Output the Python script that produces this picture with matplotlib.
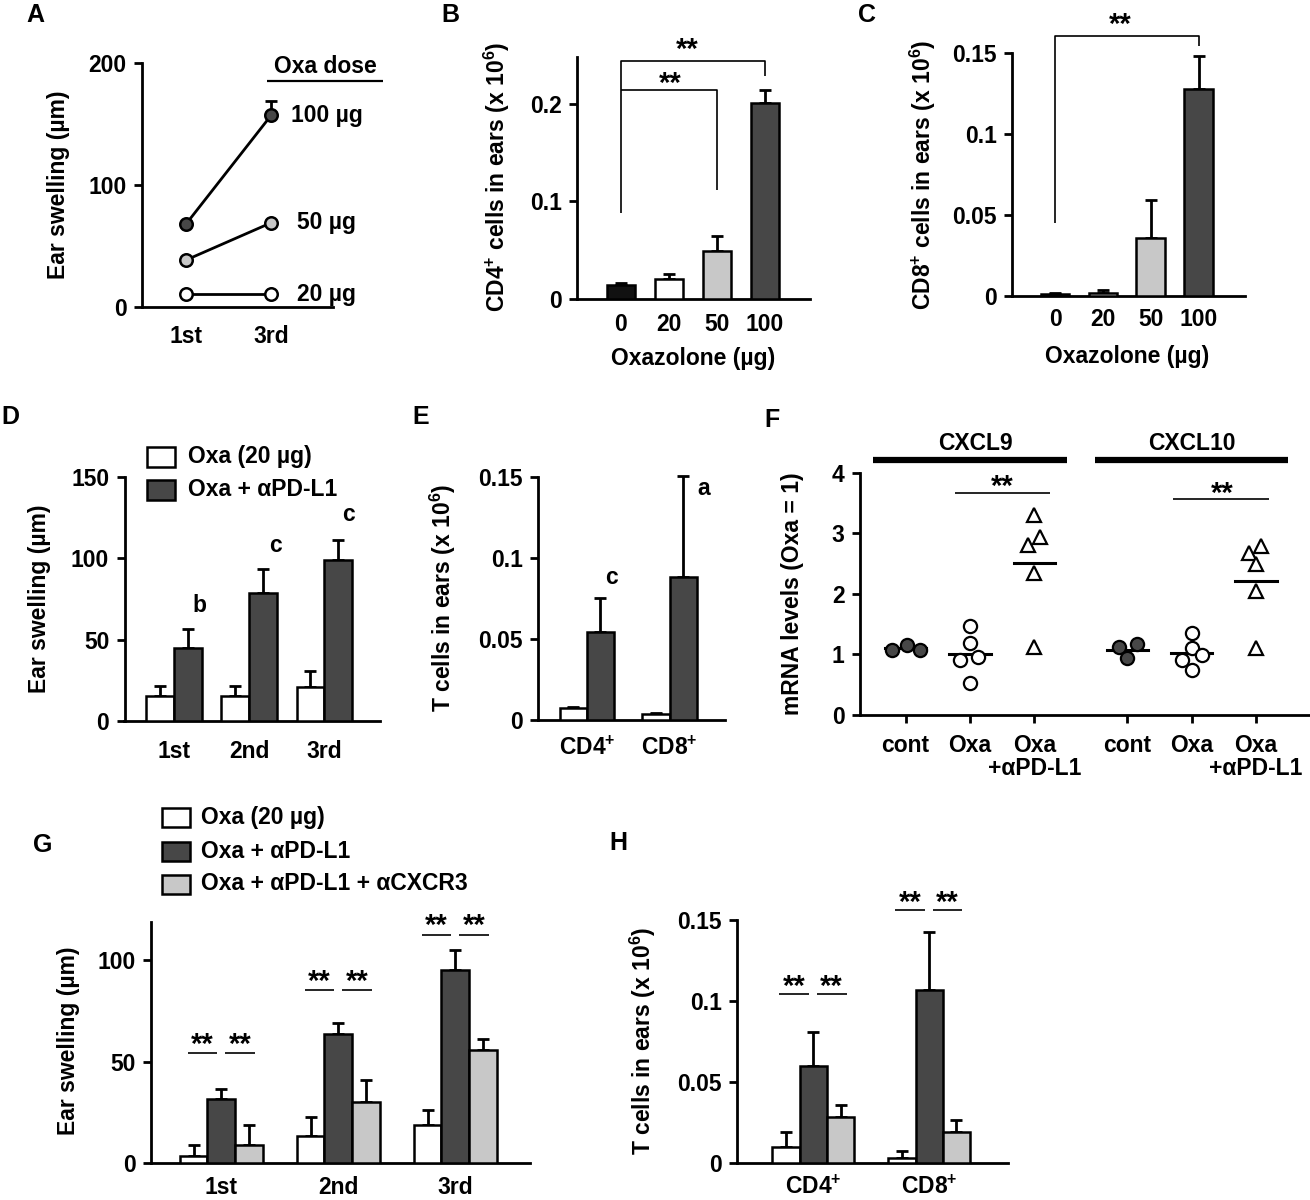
import matplotlib
matplotlib.use("Agg")
import matplotlib.pyplot as plt
from matplotlib.patches import Rectangle
import numpy as np

plt.rcParams['font.family'] = ['Liberation Sans', 'DejaVu Sans']
plt.rcParams['font.weight'] = 'bold'
plt.rcParams['font.size'] = 16.5
plt.rcParams['mathtext.fontset'] = 'custom'
plt.rcParams['mathtext.rm'] = 'Liberation Sans:bold'
plt.rcParams['mathtext.bf'] = 'Liberation Sans:bold'
plt.rcParams['mathtext.default'] = 'bf'
plt.rcParams['axes.linewidth'] = 2

# ---- data ----
# A: ear swelling after 1st / 3rd challenge
a_sessions = ['1st', '3rd']
a_doses = ['100 µg', '50 µg', '20 µg']
a_100 = [68, 157]
a_50 = [38.5, 69]
a_20 = [10.6, 10.6]
a_100_err = 12

# B / C: cells vs oxazolone dose
bc_doses = ['0', '20', '50', '100']
b_vals = [0.0144, 0.021, 0.0496, 0.2007]
b_err = [0.0024, 0.005, 0.0154, 0.013]
c_vals = [0.0012, 0.0017, 0.0357, 0.128]
c_err = [0.0004, 0.0023, 0.0234, 0.0205]

# D: swelling, Oxa vs Oxa + aPD-L1
d_sessions = ['1st', '2nd', '3rd']
d_oxa = [15.2, 15.2, 20.5]
d_oxa_err = [6.2, 6.2, 10.1]
d_pdl1 = [44.6, 78.5, 99.0]
d_pdl1_err = [11.9, 15.0, 12.4]
d_letters = ['b', 'c', 'c']

# E: T cells
e_cells = ['CD4$^{+}$', 'CD8$^{+}$']
e_oxa = [0.0072, 0.0035]
e_oxa_err = [0.001, 0.0006]
e_pdl1 = [0.0545, 0.0884]
e_pdl1_err = [0.0209, 0.0622]
e_letters = ['c', 'a']

# F: mRNA levels, individual animals
f_groups = ['cont', 'Oxa', 'Oxa\n+αPD-L1']
f_genes = ['CXCL9', 'CXCL10']
f_cxcl9 = [[1.07, 1.155, 1.07],
           [1.475, 1.19, 0.91, 0.95, 0.53],
           [3.30, 2.94, 2.81, 2.34, 1.13]]
f_cxcl10 = [[1.13, 1.17, 0.935],
            [1.35, 1.10, 0.90, 0.99, 0.75],
            [2.795, 2.67, 2.49, 2.04, 1.10]]
f_jitter9 = [[-0.22, 0.02, 0.22], [0, 0, -0.155, 0.13, 0], [0, 0.09, -0.09, 0, 0]]
f_jitter10 = [[-0.13, 0.145, 0], [0, 0, -0.155, 0.155, 0], [0.07, -0.11, 0, 0, 0]]

# G / H: with aCXCR3
g_labels = ['Oxa (20 µg)', 'Oxa + αPD-L1', 'Oxa + αPD-L1 + αCXCR3']
g_sessions = ['1st', '2nd', '3rd']
g_oxa = [3.3, 13.1, 18.9]
g_oxa_err = [5.7, 9.5, 7.3]
g_pdl1 = [31.5, 63.6, 95.1]
g_pdl1_err = [4.9, 5.6, 9.8]
g_cxcr3 = [9.0, 30.3, 55.7]
g_cxcr3_err = [9.9, 10.7, 5.3]
h_cells = ['CD4$^{+}$', 'CD8$^{+}$']
h_oxa = [0.0099, 0.0033]
h_oxa_err = [0.0093, 0.0039]
h_pdl1 = [0.0598, 0.1067]
h_pdl1_err = [0.0208, 0.0357]
h_cxcr3 = [0.0284, 0.0192]
h_cxcr3_err = [0.0072, 0.0076]

WHITE = 'white'
DARK = '#474747'
LIGHT = '#c8c8c8'
BLACK = '#111111'

W, H = 1310, 1200
fig = plt.figure(figsize=(W / 100, H / 100), dpi=100)


def make_ax(left, right, top, bottom):
    return fig.add_axes([left / W, 1 - bottom / H, (right - left) / W, (bottom - top) / H])


def style(ax, xlim, ylim, yticks, ylabels, xpad):
    ax.set_xlim(xlim)
    ax.set_ylim(ylim)
    ax.spines['top'].set_visible(False)
    ax.spines['right'].set_visible(False)
    ax.set_yticks(yticks)
    ax.set_yticklabels(ylabels)
    ax.tick_params(axis='y', length=6, width=2, pad=5)
    ax.tick_params(axis='x', length=0, pad=xpad)
    ax.patch.set_alpha(0)


def px_text(x, y, s, **kw):
    kw.setdefault('ha', 'center')
    kw.setdefault('va', 'center')
    fig.text(x / W, 1 - y / H, s, **kw)


def bars(ax, x, vals, err, width, color):
    ax.bar(x, vals, width, color=color, edgecolor='black', linewidth=1.8, zorder=3)
    ax.errorbar(x, vals, yerr=[np.zeros(len(err)), err], fmt='none', ecolor='black',
                elinewidth=2, capsize=4.5, capthick=2, zorder=2, clip_on=False)


def stars(ax, x, y, fs=21):
    ax.annotate('**', xy=(x, y), xytext=(0, -0.57 * fs), textcoords='offset points',
                ha='center', va='baseline', fontsize=fs, annotation_clip=False)


def seg(ax, xs, ys, lw=1.2):
    ax.plot(xs, ys, color='black', lw=lw, clip_on=False, solid_capstyle='butt')


# ---- A ----
ax = make_ax(142, 333, 63, 307)
style(ax, (-0.518, 1.729), (0, 200), [0, 100, 200], ['0', '100', '200'], 13)
ax_x = np.arange(len(a_sessions))
for vals, face in zip([a_100, a_50, a_20], [DARK, LIGHT, WHITE]):
    ax.plot(ax_x, vals, '-', color='black', lw=2, marker='o', ms=9, mfc=face,
            mec='black', mew=1.8, zorder=3, clip_on=False)
ax.errorbar(ax_x[1], a_100[1], yerr=[[0], [a_100_err]], fmt='none', ecolor='black',
            elinewidth=2, capsize=4.5, capthick=2, zorder=2)
ax.set_xticks(ax_x)
ax.set_xticklabels(a_sessions)
for lab, vals, dx in zip(a_doses, [a_100, a_50, a_20], [1.235, 1.31, 1.31]):
    ax.text(dx, vals[1], lab, ha='left', va='center', clip_on=False)
ax.text(1.635, 197.5, 'Oxa dose', ha='center', va='center', clip_on=False)
seg(ax, [0.953, 2.318], [185.2, 185.2], lw=1.6)
px_text(58, 185, 'Ear swelling (µm)', rotation=90)

# ---- B ----
bx = np.arange(len(bc_doses))
ax = make_ax(577, 810, 57, 299)
style(ax, (-0.917, 3.94), (0, 0.248), [0, 0.1, 0.2], ['0', '0.1', '0.2'], 10)
bars(ax, bx, b_vals, b_err, 0.6, [BLACK, WHITE, LIGHT, DARK])
ax.set_xticks(bx)
ax.set_xticklabels(bc_doses)
seg(ax, [bx[0], bx[0], bx[3], bx[3]], [0.0885, 0.244, 0.244, 0.229])
seg(ax, [bx[0], bx[2], bx[2]], [0.214, 0.214, 0.112])
stars(ax, 1.38, 0.2644)
stars(ax, 1.02, 0.2291)
px_text(497, 177, 'CD4$^{+}$ cells in ears (x 10$^{6}$)', rotation=90)
px_text(693, 358, 'Oxazolone (µg)')

# ---- C ----
ax = make_ax(1012, 1245, 53.3, 296)
style(ax, (-0.9, 3.97), (0, 0.15), [0, 0.05, 0.1, 0.15], ['0', '0.05', '0.1', '0.15'], 9)
bars(ax, bx, c_vals, c_err, 0.6, [BLACK, WHITE, LIGHT, DARK])
ax.set_xticks(bx)
ax.set_xticklabels(bc_doses)
seg(ax, [bx[0], bx[0], bx[3], bx[3]], [0.0453, 0.1609, 0.1609, 0.1547])
stars(ax, 1.36, 0.173)
px_text(923, 175, 'CD8$^{+}$ cells in ears (x 10$^{6}$)', rotation=90)
px_text(1127, 357, 'Oxazolone (µg)')

# ---- D ----
dx = np.arange(len(d_sessions))
ax = make_ax(124.5, 380, 477.3, 720.7)
style(ax, (-0.66, 2.74), (0, 150), [0, 50, 100, 150], ['0', '50', '100', '150'], 14)
bars(ax, dx - 0.185, d_oxa, d_oxa_err, 0.37, WHITE)
bars(ax, dx + 0.185, d_pdl1, d_pdl1_err, 0.37, DARK)
ax.set_xticks(dx)
ax.set_xticklabels(d_sessions)
for i, (lab, ly, off) in enumerate(zip(d_letters, [71.3, 108, 126.8], [0.335, 0.35, 0.32])):
    ax.text(dx[i] + off, ly, lab, ha='center', va='center', clip_on=False)
px_text(39.5, 599, 'Ear swelling (µm)', rotation=90)
for yc, lab, col in zip([457, 490], g_labels[:2], [WHITE, DARK]):
    fig.add_artist(Rectangle((147 / W, 1 - (yc + 10) / H), 28 / W, 20 / H,
                             facecolor=col, edgecolor='black', lw=1.8, transform=fig.transFigure))
    px_text(188, yc, lab, ha='left')

# ---- E ----
ex = np.arange(len(e_cells))
ax = make_ax(538, 725, 476.7, 720)
style(ax, (-0.59, 1.67), (0, 0.15), [0, 0.05, 0.1, 0.15], ['0', '0.05', '0.1', '0.15'], 12)
bars(ax, ex - 0.165, e_oxa, e_oxa_err, 0.33, WHITE)
bars(ax, ex + 0.165, e_pdl1, e_pdl1_err, 0.33, DARK)
ax.set_xticks(ex)
ax.set_xticklabels(e_cells)
for i, (lab, ly, off) in enumerate(zip(e_letters, [0.0879, 0.1428], [0.30, 0.41])):
    ax.text(ex[i] + off, ly, lab, ha='center', va='center', clip_on=False)
px_text(443, 598, 'T cells in ears (x 10$^{6}$)', rotation=90)

# ---- F ----
ax = make_ax(860, 1310, 472.7, 715)
fx = [0, 1, 2, 3.45, 4.45, 5.45]
style(ax, (-0.71, 6.29), (0, 4), [0, 1, 2, 3, 4], ['0', '1', '2', '3', '4'], 8)
ax.tick_params(axis='x', length=6, width=2, pad=8)
ax.set_xticks(fx)
ax.set_xticklabels(f_groups * 2, linespacing=1.0)
markers = [dict(marker='o', mfc=DARK, ms=9.5), dict(marker='o', mfc=WHITE, ms=9.5),
           dict(marker='^', mfc=WHITE, ms=10)]
for gi, (gene_vals, jit) in enumerate([(f_cxcl9, f_jitter9), (f_cxcl10, f_jitter10)]):
    for k in range(3):
        pos = fx[gi * 3 + k]
        vals = np.array(gene_vals[k])
        ax.plot(pos + np.array(jit[k]), vals, ls='none', mec='black', mew=1.6,
                zorder=4, clip_on=False, **markers[k])
        m = vals.mean()
        ax.plot([pos - 0.32, pos + 0.32], [m, m], color='black', lw=2.2, zorder=3)
# gene headers
ax.plot([-0.51, 2.51], [4.21, 4.21], color='black', lw=4.5, clip_on=False, solid_capstyle='butt')
ax.plot([2.94, 5.95], [4.21, 4.21], color='black', lw=4.5, clip_on=False, solid_capstyle='butt')
ax.text(1.08, 4.48, f_genes[0], ha='center', va='center', clip_on=False)
ax.text(4.445, 4.48, f_genes[1], ha='center', va='center', clip_on=False)
seg(ax, [0.767, 2.24], [3.66, 3.66])
stars(ax, 1.51, 3.91)
seg(ax, [4.16, 5.65], [3.56, 3.56])
stars(ax, 4.93, 3.79)
px_text(792, 594, 'mRNA levels (Oxa = 1)', rotation=90)

# ---- G ----
gx = np.arange(len(g_sessions))
ax = make_ax(151, 530, 921.7, 1163)
style(ax, (-0.6, 2.64), (0, 119), [0, 50, 100], ['0', '50', '100'], 9.5)
w = 0.236
bars(ax, gx - w, g_oxa, g_oxa_err, w, WHITE)
bars(ax, gx, g_pdl1, g_pdl1_err, w, DARK)
bars(ax, gx + w, g_cxcr3, g_cxcr3_err, w, LIGHT)
ax.set_xticks(gx)
ax.set_xticklabels(g_sessions)
for i, (ly, sy) in enumerate(zip([54.4, 85.2, 112.6], [62.3, 93.4, 121])):
    for a, b in [(-0.287, -0.032), (0.033, 0.288)]:
        seg(ax, [gx[i] + a, gx[i] + b], [ly, ly])
        stars(ax, gx[i] + (a + b) / 2, sy)
px_text(68, 1041, 'Ear swelling (µm)', rotation=90)
for yc, lab, col in zip([817.5, 851, 884], g_labels, [WHITE, DARK, LIGHT]):
    fig.add_artist(Rectangle((162 / W, 1 - (yc + 9.5) / H), 28 / W, 19 / H,
                             facecolor=col, edgecolor='black', lw=1.8, transform=fig.transFigure))
    px_text(201, yc, lab, ha='left')

# ---- H ----
hx = np.arange(len(h_cells))
ax = make_ax(737, 1008, 920, 1163)
style(ax, (-0.658, 1.68), (0, 0.15), [0, 0.05, 0.1, 0.15], ['0', '0.05', '0.1', '0.15'], 9)
w = 0.235
bars(ax, hx - w, h_oxa, h_oxa_err, w, WHITE)
bars(ax, hx, h_pdl1, h_pdl1_err, w, DARK)
bars(ax, hx + w, h_cxcr3, h_cxcr3_err, w, LIGHT)
ax.set_xticks(hx)
ax.set_xticklabels(h_cells)
for i, (ly, sy) in enumerate(zip([0.1043, 0.156], [0.114, 0.166])):
    for a, b in [(-0.293, -0.034), (0.029, 0.287)]:
        seg(ax, [hx[i] + a, hx[i] + b], [ly, ly])
        stars(ax, hx[i] + (a + b) / 2, sy)
px_text(643, 1041, 'T cells in ears (x 10$^{6}$)', rotation=90)

# panel letters
for lab, x, y in [('A', 35, 15), ('B', 450, 15), ('C', 867, 15), ('D', 10, 417),
                  ('E', 421, 417), ('F', 772, 420), ('G', 43, 845), ('H', 618, 843)]:
    px_text(x, y, lab, fontsize=18)

fig.savefig('out.png', dpi=100)
